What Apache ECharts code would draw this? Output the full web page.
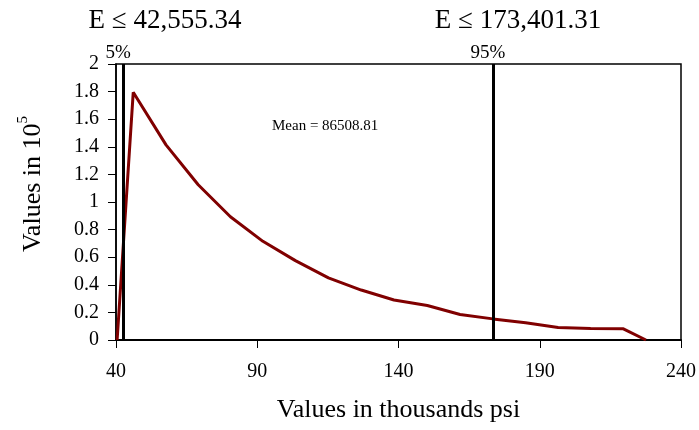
<!DOCTYPE html>
<html>
<head>
<meta charset="utf-8">
<script src="https://cdn.jsdelivr.net/npm/echarts@6/dist/echarts.min.js"></script>
<style>html,body{margin:0;padding:0;background:#fff;}#c{width:699px;height:430px;}</style>
</head>
<body>
<div id="c"></div>
<script>
const xValues = [40.4, 46.1, 57.7, 69.1, 80.5, 92.0, 103.5, 115.2, 126.8, 138.4, 150.2, 161.8, 173.4, 185.0, 196.5, 208.0, 219.6, 227.6];
const yValues = [0, 1.795, 1.414, 1.125, 0.893, 0.715, 0.575, 0.45, 0.362, 0.29, 0.25, 0.185, 0.153, 0.125, 0.09, 0.083, 0.081, 0];
const xTicks = [40, 90, 140, 190, 240];
const percentiles = [42.55534, 173.40131];
const percentileLabels = ['5%', '95%'];
const percentileTitles = ['E \u2264 42,555.34', 'E \u2264 173,401.31'];
const meanText = 'Mean = 86508.81';

const FONT = "'Liberation Serif', 'Times New Roman', serif";
const chart = echarts.init(document.getElementById('c'), null, {renderer: 'canvas'});
const data = xValues.map((x, i) => [x, yValues[i]]);

chart.setOption({
  animation: false,
  backgroundColor: '#fff',
  grid: {left: 116, right: 15, top: 64, bottom: 90, show: true, borderColor: '#000', borderWidth: 1.5, backgroundColor: 'transparent'},
  title: [
    {text: percentileTitles[0], left: 160, top: 2, textAlign: 'center', textStyle: {fontFamily: FONT, fontSize: 27, fontWeight: 'normal', color: '#000'}},
    {text: percentileTitles[1], left: 513, top: 2, textAlign: 'center', textStyle: {fontFamily: FONT, fontSize: 27, fontWeight: 'normal', color: '#000'}}
  ],
  graphic: [
    {type: 'text', left: 272, top: 119, style: {text: meanText, font: "15px " + FONT, fill: '#000'}}
  ],
  xAxis: {
    type: 'value', min: 40, max: 240,
    name: 'Values in thousands psi', nameLocation: 'middle', nameGap: 57,
    nameTextStyle: {fontFamily: FONT, fontSize: 26, color: '#000'},
    axisLine: {show: true, lineStyle: {color: '#000', width: 2}},
    axisTick: {show: true, customValues: xTicks, length: 8, lineStyle: {color: '#000', width: 1}},
    axisLabel: {customValues: xTicks, fontFamily: FONT, fontSize: 20, color: '#000', margin: 22},
    splitLine: {show: false}
  },
  yAxis: {
    type: 'value', min: 0, max: 2, interval: 0.2,
    name: '{a|Values in 10}{s|5}', nameLocation: 'middle', nameGap: 70, nameRotate: 90,
    nameTextStyle: {padding: [0, 0, 0, 36], rich: {
      a: {fontFamily: FONT, fontSize: 26, color: '#000', lineHeight: 30, verticalAlign: 'bottom'},
      s: {fontFamily: FONT, fontSize: 15, color: '#000', lineHeight: 30, verticalAlign: 'top', padding: [0, 0, 12, 0]}
    }},
    axisLine: {show: true, lineStyle: {color: '#000', width: 1.5}},
    axisTick: {show: true, length: 8, lineStyle: {color: '#000', width: 1}},
    axisLabel: {fontFamily: FONT, fontSize: 20, color: '#000', margin: 17},
    splitLine: {show: false}
  },
  series: [{
    type: 'line',
    data: data,
    showSymbol: false,
    lineStyle: {color: '#800000', width: 3},
    itemStyle: {color: '#800000'},
    z: 3,
    markLine: {
      silent: true,
      symbol: 'none',
      lineStyle: {color: '#000', width: 3, type: 'solid'},
      label: {show: true, position: 'end', fontFamily: FONT, fontSize: 19, color: '#000', distance: 1},
      data: percentiles.map((v, i) => ({xAxis: v, label: {formatter: percentileLabels[i], offset: [-5, 0]}}))
    }
  }]
});
</script>
</body>
</html>
